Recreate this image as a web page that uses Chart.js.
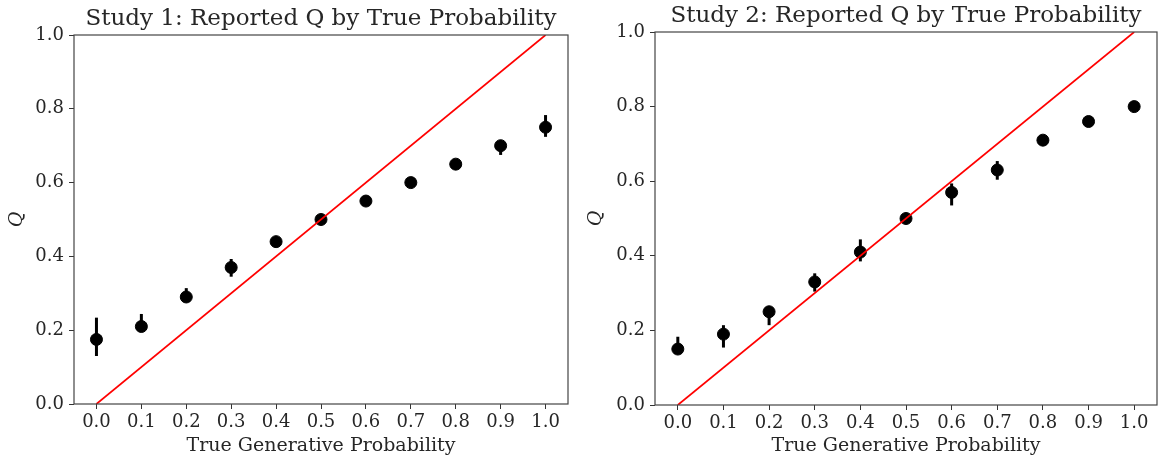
<!DOCTYPE html>
<html>
<head>
<meta charset="utf-8">
<script src="https://cdn.jsdelivr.net/npm/chart.js@4.4.1/dist/chart.umd.min.js"></script>
<style>
  body { margin: 0; background: #fff; width: 1158px; height: 459px; overflow: hidden; position: relative; }
  .box { position: absolute; top: 0; height: 459px; }
</style>
</head>
<body>
<div class="box" style="left:0; width:579px"><canvas id="study1"></canvas></div>
<div class="box" style="left:579px; width:585px"><canvas id="study2"></canvas></div>
<script>
// true generative probability (x) and tick labels
const trueProb = [0.0, 0.1, 0.2, 0.3, 0.4, 0.5, 0.6, 0.7, 0.8, 0.9, 1.0];
const xTicks = [0.0, 0.1, 0.2, 0.3, 0.4, 0.5, 0.6, 0.7, 0.8, 0.9, 1.0];
const yTicks = [0.0, 0.2, 0.4, 0.6, 0.8, 1.0];

// study 1: mean reported Q with error bar ends
const study1Q  = [0.175, 0.21, 0.29, 0.37, 0.44, 0.50, 0.55, 0.60, 0.65, 0.70, 0.75];
const study1Lo = [0.130, 0.20, 0.28, 0.345, 0.435, 0.495, 0.545, 0.595, 0.645, 0.675, 0.724];
const study1Hi = [0.234, 0.244, 0.314, 0.393, 0.445, 0.505, 0.555, 0.605, 0.655, 0.71, 0.783];

// study 2
const study2Q  = [0.15, 0.19, 0.25, 0.33, 0.41, 0.50, 0.57, 0.63, 0.71, 0.76, 0.80];
const study2Lo = [0.145, 0.154, 0.214, 0.304, 0.385, 0.495, 0.535, 0.604, 0.705, 0.755, 0.795];
const study2Hi = [0.183, 0.214, 0.255, 0.353, 0.444, 0.505, 0.594, 0.654, 0.715, 0.765, 0.805];

// identity reference line
const diagX = [0, 1];
const diagY = [0, 1];

const serif = "'DejaVu Serif', serif";
const textColor = '#262626';

const frameAndBars = {
    id: 'frameAndBars',
    beforeDatasetsDraw(chart, args, opts) {
        const ctx = chart.ctx, xs = chart.scales.x, ys = chart.scales.y;
        ctx.save();
        ctx.strokeStyle = '#000';
        ctx.lineWidth = 3;
        for (let i = 0; i < trueProb.length; i++) {
            const px = xs.getPixelForValue(trueProb[i]);
            ctx.beginPath();
            ctx.moveTo(px, ys.getPixelForValue(opts.lo[i]));
            ctx.lineTo(px, ys.getPixelForValue(opts.hi[i]));
            ctx.stroke();
        }
        ctx.restore();
    },
    afterDraw(chart, args, opts) {
        const ctx = chart.ctx, a = chart.chartArea;
        ctx.save();
        ctx.strokeStyle = '#444';
        ctx.lineWidth = 1.2;
        ctx.strokeRect(a.left, a.top, a.right - a.left, a.bottom - a.top);
        ctx.fillStyle = textColor;
        ctx.font = '23px ' + serif;
        ctx.textAlign = 'center';
        ctx.textBaseline = 'middle';
        ctx.fillText(opts.title, (a.left + a.right) / 2, opts.titleY);
        ctx.restore();
    }
};

function makeChart(id, w, title, q, lo, hi, geo) {
    const data = {
        datasets: [{
            type: 'line',
            data: diagX.map((x, i) => ({x: x, y: diagY[i]})),
            borderColor: '#ff0000',
            borderWidth: 1.7,
            pointRadius: 0,
            fill: false
        }, {
            type: 'scatter',
            data: trueProb.map((x, i) => ({x: x, y: q[i]})),
            backgroundColor: '#000',
            borderColor: '#000',
            pointRadius: 6,
            pointHoverRadius: 6
        }]
    };

    const config = {
        type: 'scatter',
        data: data,
        plugins: [frameAndBars],
        options: {
            responsive: false,
            animation: false,
            events: [],
            layout: { padding: { top: geo.top, right: geo.right, left: 0, bottom: 0 } },
            plugins: {
                legend: { display: false },
                tooltip: { enabled: false },
                frameAndBars: { lo: lo, hi: hi, title: title, titleY: geo.titleY }
            },
            scales: {
                x: {
                    type: 'linear',
                    min: -0.05,
                    max: 1.05,
                    afterBuildTicks: s => { s.ticks = xTicks.map(v => ({value: v})); },
                    afterFit: s => { s.height = geo.xHeight; s.paddingLeft = 0; s.paddingRight = 0; },
                    grid: { drawOnChartArea: false, tickLength: 5, tickColor: '#333' },
                    border: { display: false },
                    ticks: {
                        color: textColor,
                        font: { family: serif, size: 18 },
                        padding: 3,
                        maxRotation: 0,
                        callback: v => v.toFixed(1)
                    },
                    title: {
                        display: true,
                        text: 'True Generative Probability',
                        color: textColor,
                        font: { family: serif, size: 19 },
                        padding: { top: 2, bottom: 2 }
                    }
                },
                y: {
                    type: 'linear',
                    min: 0,
                    max: 1,
                    afterBuildTicks: s => { s.ticks = yTicks.map(v => ({value: v})); },
                    afterFit: s => { s.width = geo.yWidth; s.paddingTop = 0; s.paddingBottom = 0; },
                    grid: { drawOnChartArea: false, tickLength: 5, tickColor: '#333' },
                    border: { display: false },
                    ticks: {
                        color: textColor,
                        font: { family: serif, size: 18 },
                        padding: 5,
                        callback: v => v.toFixed(1)
                    },
                    title: {
                        display: true,
                        text: 'Q',
                        color: textColor,
                        font: { family: serif, size: 19, style: 'italic' },
                        padding: { top: 6, bottom: 0 }
                    }
                }
            }
        }
    };

    const cv = document.getElementById(id);
    cv.width = w;
    cv.height = 459;
    new Chart(cv.getContext('2d'), config);
}

makeChart('study1', 579, 'Study 1: Reported Q by True Probability', study1Q, study1Lo, study1Hi,
    { top: 35, right: 11, xHeight: 55, yWidth: 74, titleY: 19 });
makeChart('study2', 585, 'Study 2: Reported Q by True Probability', study2Q, study2Lo, study2Hi,
    { top: 32, right: 1, xHeight: 54, yWidth: 76, titleY: 16 });
</script>
</body>
</html>
